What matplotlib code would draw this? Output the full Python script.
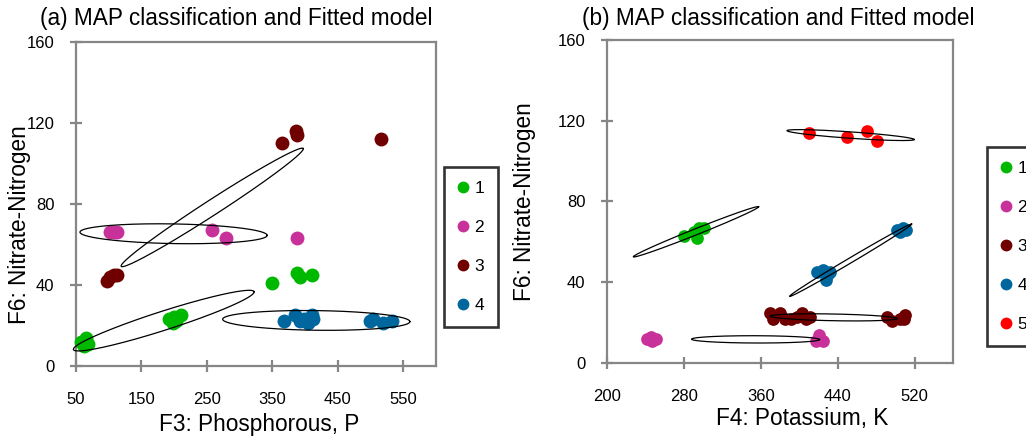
import numpy as np
import matplotlib
matplotlib.use("Agg")
import matplotlib.pyplot as plt
from matplotlib.lines import Line2D

plt.rcParams['font.family'] = ['Liberation Sans', 'DejaVu Sans']

# (a) F3 phosphorous vs F6 nitrate-nitrogen
a_x = {
    1: [57, 62, 65, 68, 192, 198, 200, 203, 210, 349, 387, 392, 410],
    2: [102, 108, 112, 258, 279, 387],
    3: [97, 102, 108, 113, 364, 386, 388, 516],
    4: [367, 385, 392, 398, 405, 410, 412, 499, 503, 519, 532],
}
a_y = {
    1: [12, 10, 14, 11, 23, 21, 24, 22, 25, 41, 46, 44, 45],
    2: [66, 66, 66, 67, 63, 63],
    3: [42, 44, 45, 45, 110, 116, 114, 112],
    4: [22, 25, 22, 23, 21, 25, 23, 22, 23, 21, 22],
}
# fitted components: centre, end of major axis, minor/major ratio
a_centres = [(184, 22.4), (199, 65.3), (258, 78.3), (417, 22.5)]
a_ends = [(322, 36.7), (342, 64.5), (397, 107.4), (560, 21.9)]
a_ratio = [0.10, 0.105, 0.07, 0.105]

# (b) F4 potassium vs F6 nitrate-nitrogen
b_x = {
    1: [280, 291, 294, 296, 301],
    2: [242, 246, 247, 251, 418, 421, 425],
    3: [370, 373, 380, 385, 391, 398, 403, 407, 411, 491, 497, 505, 509, 510],
    4: [419, 425, 428, 430, 432, 502, 505, 508, 511],
    5: [410, 450, 471, 481],
}
b_y = {
    1: [63, 65, 62, 67, 67],
    2: [12, 13, 11, 12, 11, 14, 11],
    3: [25, 22, 25, 22, 22, 23, 25, 22, 23, 23, 21, 22, 22, 24],
    4: [45, 46, 41, 44, 45, 66, 65, 67, 66],
    5: [114, 112, 115, 110],
}
b_centres = [(292.6, 65.0), (354.6, 11.7), (435.8, 22.6), (453.5, 50.9), (453.5, 112.9)]
b_ends = [(357.8, 77.4), (421.2, 11.6), (501.7, 22.0), (517.0, 68.8), (519.7, 110.7)]
b_ratio = [0.045, 0.057, 0.053, 0.035, 0.05]

colors = {1: '#00B800', 2: '#C8309A', 3: '#700000', 4: '#00669E', 5: '#FF0000'}
grey = '#868686'


def draw_ellipse(ax, centre, end, ratio):
    # build the ellipse in screen space so the minor axis is truly perpendicular
    c = ax.transData.transform(centre)
    e = ax.transData.transform(end)
    a = e - c
    b = ratio * np.array([-a[1], a[0]])
    t = np.linspace(0, 2 * np.pi, 300)
    pts = c + np.outer(np.cos(t), a) + np.outer(np.sin(t), b)
    data = ax.transData.inverted().transform(pts)
    ax.plot(data[:, 0], data[:, 1], color='black', lw=0.9, zorder=4, clip_on=False)


def style_axes(ax):
    for s in ax.spines.values():
        s.set_color(grey)
        s.set_linewidth(1.6)
    ax.tick_params(direction='inout', length=9, width=1.6, color=grey,
                   labelsize=12)
    ax.tick_params(axis='x', pad=14)
    ax.tick_params(axis='y', pad=11)


fig = plt.figure(figsize=(10.26, 4.41), dpi=100)
ax1 = fig.add_axes([0.0741, 0.1701, 0.3509, 0.7347])
ax2 = fig.add_axes([0.5916, 0.1769, 0.3372, 0.7324])

# panel (a)
ax1.set_xlim(50, 600)
ax1.set_ylim(0, 160)
ax1.set_xticks([50, 150, 250, 350, 450, 550])
ax1.set_yticks([0, 40, 80, 120, 160])
for k in a_x:
    ax1.scatter(a_x[k], a_y[k], s=100, color=colors[k], lw=0, zorder=3, clip_on=False)
for c, e, r in zip(a_centres, a_ends, a_ratio):
    draw_ellipse(ax1, c, e, r)
style_axes(ax1)
ax1.text(0.444, 1.074, '(a) MAP classification and Fitted model', transform=ax1.transAxes,
         ha='center', va='center', fontsize=16.3)
ax1.set_xlabel('F3: Phosphorous, P', fontsize=16.3, va='center')
ax1.xaxis.set_label_coords(0.51, -0.182)
ax1.set_ylabel('F6: Nitrate-Nitrogen', fontsize=16.3, va='center')
ax1.yaxis.set_label_coords(-0.156, 0.437)

# panel (b)
ax2.set_xlim(200, 560)
ax2.set_ylim(0, 160)
ax2.set_xticks([200, 280, 360, 440, 520])
ax2.set_yticks([0, 40, 80, 120, 160])
for k in b_x:
    ax2.scatter(b_x[k], b_y[k], s=84, color=colors[k], lw=0, zorder=3, clip_on=False)
for c, e, r in zip(b_centres, b_ends, b_ratio):
    draw_ellipse(ax2, c, e, r)
style_axes(ax2)
ax2.text(0.494, 1.068, '(b) MAP classification and Fitted model', transform=ax2.transAxes,
         ha='center', va='center', fontsize=16.3)
ax2.set_xlabel('F4: Potassium, K', fontsize=16.3, va='center')
ax2.xaxis.set_label_coords(0.564, -0.172)
ax2.set_ylabel('F6: Nitrate-Nitrogen', fontsize=16.3, va='center')
ax2.yaxis.set_label_coords(-0.237, 0.5)


def add_legend(keys, anchor):
    handles = [Line2D([], [], ls='none', marker='o', ms=8.5, mec='none',
                      mfc=colors[k], label=str(k)) for k in keys]
    leg = fig.legend(handles=handles, loc='upper left', bbox_to_anchor=anchor,
                     bbox_transform=fig.transFigure, frameon=True, fancybox=False,
                     fontsize=12.5, labelspacing=1.38, borderpad=0.8,
                     handlelength=0.6, handletextpad=0.35, borderaxespad=0)
    leg.get_frame().set_edgecolor('black')
    leg.get_frame().set_linewidth(1.9)
    return leg


add_legend([1, 2, 3, 4], (444 / 1026, 1 - 167 / 441))
add_legend([1, 2, 3, 4, 5], (987 / 1026, 1 - 147 / 441))

fig.savefig('out.png', dpi=100)
